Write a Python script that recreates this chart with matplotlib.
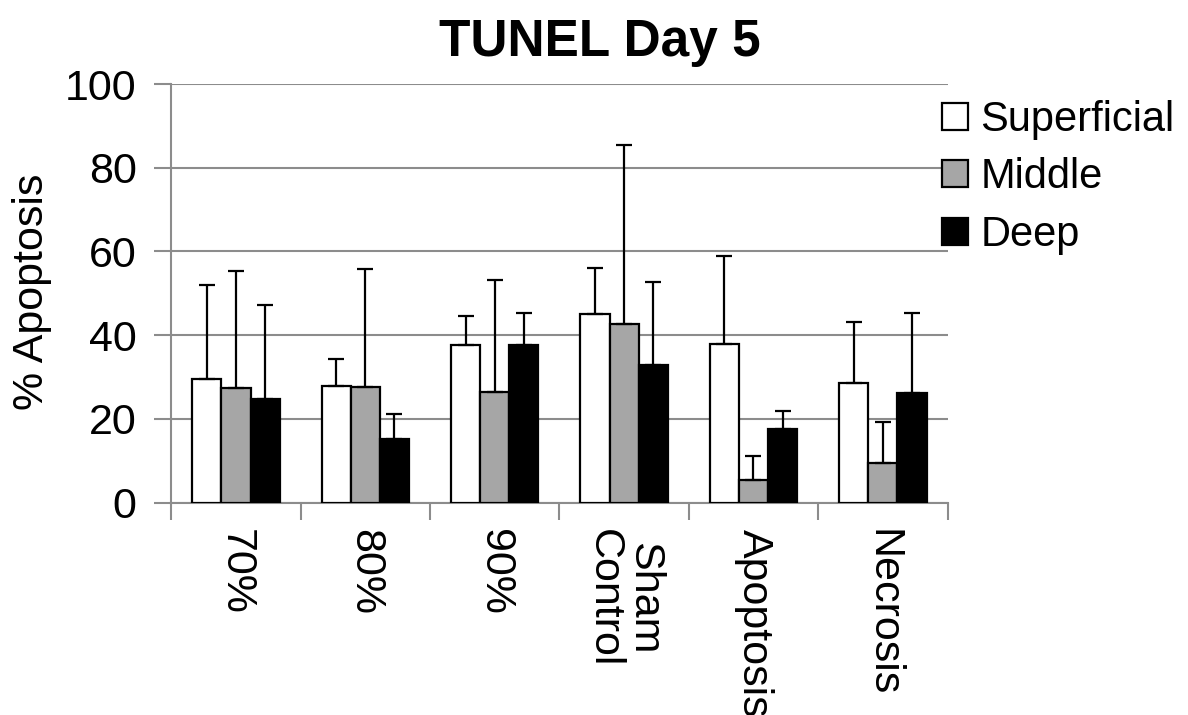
import matplotlib
matplotlib.use("Agg")
import matplotlib.pyplot as plt
import numpy as np

plt.rcParams['font.family'] = ['Liberation Sans', 'DejaVu Sans']

categories = ["70%", "80%", "90%", "Sham\nControl", "Apoptosis", "Necrosis"]
series_names = ["Superficial", "Middle", "Deep"]
superficial = [29.5, 27.9, 37.6, 45.1, 37.9, 28.5]
middle = [27.4, 27.7, 26.5, 42.7, 5.5, 9.6]
deep = [24.8, 15.1, 37.7, 33.0, 17.7, 26.3]
superficial_err = [22.5, 6.4, 7.1, 10.9, 21.0, 14.7]
middle_err = [27.9, 28.0, 26.8, 42.7, 5.6, 9.7]
deep_err = [22.4, 6.2, 7.5, 19.8, 4.2, 18.9]
yticks = [0, 20, 40, 60, 80, 100]

colors = ["#FFFFFF", "#A6A6A6", "#000000"]
grid_color = "#8C8C8C"
fs = 31

fig = plt.figure(figsize=(11.88, 7.15), dpi=100)
ax = fig.add_axes([0.1442, 0.2969, 0.7976 - 0.1442, 0.8825 - 0.2969])

x = np.arange(len(categories))
width = 0.225
values = [superficial, middle, deep]
errors = [superficial_err, middle_err, deep_err]
handles = []
for i, (vals, errs, col, name) in enumerate(zip(values, errors, colors, series_names)):
    pos = x + (i - 1) * width
    b = ax.bar(pos, vals, width, color=col, edgecolor="black", linewidth=1.6,
               label=name, zorder=3)
    ax.errorbar(pos, vals, yerr=[np.zeros(len(vals)), errs], fmt="none",
                ecolor="black", elinewidth=1.6, capsize=5.5, capthick=1.6, zorder=4)
    handles.append(b)

ax.set_xlim(-0.5, len(categories) - 0.5)
ax.set_ylim(0, 100)
ax.set_yticks(yticks)
ax.set_yticklabels([str(t) for t in yticks], fontsize=fs)
ax.yaxis.grid(True, color=grid_color, linewidth=1.5, zorder=0)
ax.set_axisbelow(True)

# category boundaries as tick marks, labels at category centres
ax.set_xticks(np.arange(len(categories) + 1) - 0.5)
ax.set_xticklabels([])
ax.set_xticks(x, minor=True)
ax.set_xticklabels(categories, minor=True, rotation=270, fontsize=fs,
                   va="top", ha="center", linespacing=1.0)
ax.tick_params(axis="x", which="major", length=12, width=1.5, color=grid_color, direction="out")
ax.tick_params(axis="x", which="minor", length=0, pad=19)
ax.tick_params(axis="y", length=12, width=1.5, color=grid_color, direction="out", pad=13)

for side in ["top", "right"]:
    ax.spines[side].set_visible(False)
for side in ["left", "bottom"]:
    ax.spines[side].set_color(grid_color)
    ax.spines[side].set_linewidth(1.5)

fig.text(32 / 1188, 1 - 292 / 715, "% Apoptosis", fontsize=fs, rotation=90,
         ha="center", va="center")

fig.text(600 / 1188, 1 - 56 / 715, "TUNEL Day 5", fontsize=37, fontweight="bold",
         ha="center", va="baseline")

fig.legend(handles=handles, labels=series_names, loc="upper left",
           bbox_to_anchor=(942 / 1188, 1 - 100 / 715), frameon=False, fontsize=30,
           handlelength=0.62, handleheight=0.62, handletextpad=0.3,
           labelspacing=0.42, borderpad=0, borderaxespad=0)

fig.savefig("out.png", dpi=100)
